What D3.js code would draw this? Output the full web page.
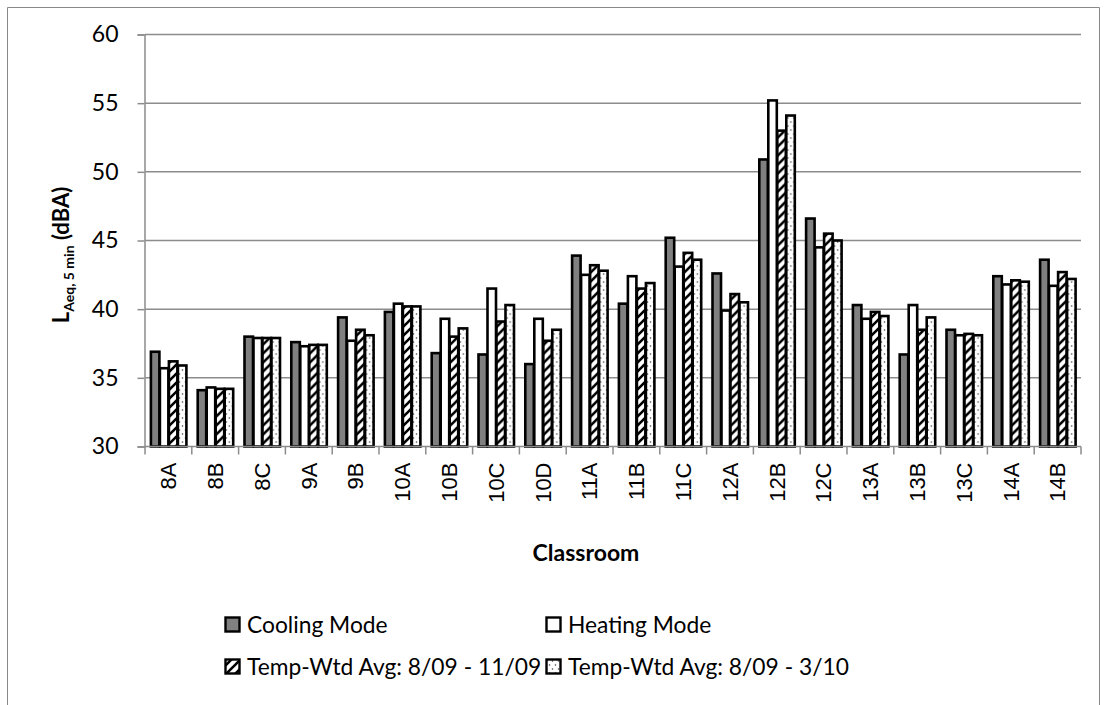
<!DOCTYPE html>
<html><head><meta charset="utf-8">
<script src="https://cdn.jsdelivr.net/npm/d3@7/dist/d3.min.js"></script>
<style>html,body{margin:0;padding:0;background:#fff;}svg{display:block;}</style>
</head><body>
<script>
const categories = ["8A","8B","8C","9A","9B","10A","10B","10C","10D","11A","11B","11C","12A","12B","12C","13A","13B","13C","14A","14B"];
const cooling  = [36.9,34.1,38.0,37.6,39.4,39.8,36.8,36.7,36.0,43.9,40.4,45.2,42.6,50.9,46.6,40.3,36.7,38.5,42.4,43.6];
const heating  = [35.7,34.3,37.9,37.3,37.7,40.4,39.3,41.5,39.3,42.5,42.4,43.1,39.9,55.2,44.5,39.3,40.3,38.1,41.8,41.7];
const avgFall  = [36.2,34.2,37.9,37.4,38.5,40.2,38.0,39.1,37.7,43.2,41.5,44.1,41.1,53.0,45.5,39.8,38.5,38.2,42.1,42.7];
const avgYear  = [35.9,34.2,37.9,37.4,38.1,40.2,38.6,40.3,38.5,42.8,41.9,43.6,40.5,54.1,45.0,39.5,39.4,38.1,42.0,42.2];
const seriesNames = ["Cooling Mode","Heating Mode","Temp-Wtd Avg: 8/09 - 11/09","Temp-Wtd Avg: 8/09 - 3/10"];
const yTicks = [30,35,40,45,50,55,60];

const W = 1107, H = 705;
const plot = {left:145, right:1081, top:34.5, bottom:446.5};
const svg = d3.select("body").append("svg").attr("width",W).attr("height",H);

const defs = svg.append("defs");
const hatch = defs.append("pattern").attr("id","hatch").attr("patternUnits","userSpaceOnUse")
  .attr("width",9).attr("height",9);
hatch.append("rect").attr("width",9).attr("height",9).attr("fill","#fff");
hatch.append("path").attr("d","M-2,2 l4,-4 M0,9 l9,-9 M7,11 l4,-4").attr("stroke","#000").attr("stroke-width",2.6);
const dots = defs.append("pattern").attr("id","dots").attr("patternUnits","userSpaceOnUse")
  .attr("width",6).attr("height",8);
dots.append("rect").attr("width",6).attr("height",8).attr("fill","#fff");
dots.append("circle").attr("cx",1.5).attr("cy",2).attr("r",0.8).attr("fill","#444");
dots.append("circle").attr("cx",4.5).attr("cy",6).attr("r",0.8).attr("fill","#444");

const fills = ["#808080","#ffffff","url(#hatch)","url(#dots)"];
const data = [cooling, heating, avgFall, avgYear];

// outer border
svg.append("path").attr("d",`M7.5,${H+5} V7.5 H1099.5 V${H+5}`).attr("fill","none").attr("stroke","#888").attr("stroke-width",1);

const x = d3.scaleBand().domain(categories).range([plot.left, plot.right]).paddingInner(0).paddingOuter(0);
const y = d3.scaleLinear().domain([30,60]).range([plot.bottom, plot.top]);
const xs = d3.scaleBand().domain(d3.range(4)).range([0, x.bandwidth()]).paddingOuter(0.6).paddingInner(0);

// gridlines
svg.append("g").selectAll("line").data(yTicks.slice(1)).join("line")
  .attr("x1",plot.left).attr("x2",plot.right)
  .attr("y1",d=>y(d)).attr("y2",d=>y(d))
  .attr("stroke","#8c8c8c").attr("stroke-width",1.5);

// y axis
const yAxis = svg.append("g").attr("transform",`translate(${plot.left-0.5},0)`)
  .call(d3.axisLeft(y).tickValues(yTicks).tickSize(7).tickPadding(19).tickFormat(d3.format("d")));
yAxis.select(".domain").attr("stroke","#8c8c8c").attr("stroke-width",1.5);
yAxis.selectAll(".tick line").attr("stroke","#8c8c8c").attr("stroke-width",1.5);
yAxis.selectAll("text").attr("font-family","Lato, 'Open Sans', sans-serif").attr("font-size",23).attr("fill","#000");

// bars
const groups = svg.append("g").selectAll("g").data(categories).join("g")
  .attr("transform",d=>`translate(${x(d)},0)`);
groups.selectAll("rect").data((c,i)=>data.map((s,k)=>({k, v:s[i]}))).join("rect")
  .attr("x",d=>xs(d.k)+0.5)
  .attr("width",xs.bandwidth()-0.5)
  .attr("y",d=>y(d.v))
  .attr("height",d=>plot.bottom - y(d.v))
  .attr("fill",d=>fills[d.k])
  .attr("stroke","#000").attr("stroke-width",2.6);

// x axis
const xAxis = svg.append("g").attr("transform",`translate(0,${plot.bottom})`)
  .call(d3.axisBottom(x).tickSize(0).tickPadding(0));
xAxis.select(".domain").remove();
svg.append("line").attr("x1",plot.left).attr("x2",plot.right).attr("y1",plot.bottom).attr("y2",plot.bottom)
  .attr("stroke","#8c8c8c").attr("stroke-width",1.5);
svg.append("g").selectAll("line").data(categories.concat(["__end"])).join("line")
  .attr("x1",(d,i)=>plot.left + i*x.bandwidth()).attr("x2",(d,i)=>plot.left + i*x.bandwidth())
  .attr("y1",plot.bottom).attr("y2",plot.bottom+8)
  .attr("stroke","#8c8c8c").attr("stroke-width",1.5);
xAxis.selectAll(".tick text")
  .attr("transform","rotate(-90)")
  .attr("text-anchor","end")
  .attr("dy","0.35em")
  .attr("x",-16).attr("y",0)
  .attr("font-family","'Liberation Sans', Arial, sans-serif").attr("font-size",22).attr("fill","#000");

// axis titles
svg.append("text").attr("x",586).attr("y",561).attr("text-anchor","middle")
  .attr("font-family","Lato, sans-serif").attr("font-weight","bold").attr("font-size",23).text("Classroom");
const yl = svg.append("text").attr("transform","translate(69,255) rotate(-90)").attr("text-anchor","middle")
  .attr("font-family","Lato, sans-serif").attr("font-weight","bold").attr("font-size",22);
yl.append("tspan").text("L");
yl.append("tspan").attr("font-size",14).attr("dy",5).text("Aeq, 5 min");
yl.append("tspan").attr("dy",-5).text(" (dBA)");

// legend
const legPos = [[224,625],[545,625],[224,667],[545,667]];
const leg = svg.append("g").selectAll("g").data(seriesNames).join("g")
  .attr("transform",(d,i)=>`translate(${legPos[i][0]},${legPos[i][1]})`);
leg.append("rect").attr("x",1.5).attr("y",-7.5).attr("width",14).attr("height",14)
  .attr("fill",(d,i)=>fills[i]).attr("stroke","#000").attr("stroke-width",2.4);
leg.append("text").attr("x",23).attr("y",0).attr("dy","0.35em")
  .attr("font-family","Lato, sans-serif").attr("font-size",22.8).text(d=>d);
</script>
</body></html>
